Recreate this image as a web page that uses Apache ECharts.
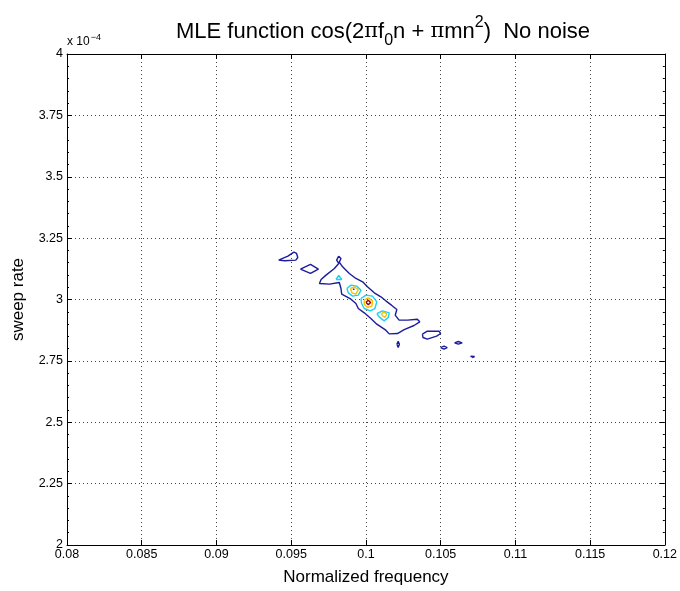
<!DOCTYPE html>
<html>
<head>
<meta charset="utf-8">
<script src="https://cdn.jsdelivr.net/npm/echarts@6/dist/echarts.min.js"></script>
<style>
  html, body { margin: 0; padding: 0; background: #fff; }
  #chart { width: 680px; height: 591px; }
</style>
</head>
<body>
<div id="chart"></div>
<script>
// axis ranges (sweep rate in units of 1e-4)
var xTicks = [0.08, 0.085, 0.09, 0.095, 0.1, 0.105, 0.11, 0.115, 0.12];
var yTicks = [2, 2.25, 2.5, 2.75, 3, 3.25, 3.5, 3.75, 4];

// contour level 1 (dark blue) - closed loops, [freq, sweep]
var blueContours = [
  [[0.09416,3.1603],[0.09478,3.1766],[0.09518,3.1929],[0.09536,3.1875],[0.09544,3.1712],[0.09531,3.1603],[0.09456,3.1576],[0.09416,3.1603]],
  [[0.09562,3.1236],[0.09629,3.1427],[0.09682,3.1236],[0.09629,3.1060],[0.09562,3.1236]],
  [[0.09818,3.1766],[0.09833,3.1671],[0.09822,3.1522],[0.09844,3.1332],[0.09889,3.1060],[0.09933,3.0856],
   [0.09978,3.0720],[0.10010,3.0516],[0.10056,3.0272],[0.10100,3.0109],[0.10133,2.9946],[0.10171,2.9769],
   [0.10207,2.9592],[0.10196,2.9361],[0.10222,2.9158],[0.10278,2.9158],[0.10344,2.9198],[0.10360,2.9090],
   [0.10322,2.8940],[0.10256,2.8777],[0.10211,2.8614],[0.10156,2.8600],[0.10133,2.8750],[0.10073,2.8995],
   [0.10033,2.9226],[0.09989,2.9457],[0.09949,2.9633],[0.09933,2.9837],[0.09900,3.0014],[0.09838,3.0217],
   [0.09833,3.0448],[0.09822,3.0693],[0.09756,3.0625],[0.09689,3.0652],[0.09700,3.0815],[0.09733,3.0992],
   [0.09789,3.1264],[0.09818,3.1467],[0.09804,3.1603],[0.09818,3.1766]],
  [[0.10207,2.8179],[0.10216,2.8302],[0.10224,2.8179],[0.10216,2.8043],[0.10207,2.8179]],
  [[0.10378,2.8587],[0.10411,2.8709],[0.10489,2.8709],[0.10500,2.8614],[0.10473,2.8505],[0.10411,2.8383],[0.10382,2.8451],[0.10378,2.8587]],
  [[0.10500,2.8043],[0.10522,2.8098],[0.10544,2.8043],[0.10522,2.7976],[0.10500,2.8043]],
  [[0.10593,2.8234],[0.10618,2.8288],[0.10644,2.8234],[0.10618,2.8179],[0.10593,2.8234]],
  [[0.10700,2.7690],[0.10713,2.7731],[0.10727,2.7677],[0.10713,2.7636],[0.10700,2.7690]]
];

// contour level 2 (cyan)
var cyanContours = [
  [[0.09800,3.0815],[0.09818,3.0978],[0.09838,3.0815],[0.09800,3.0815]],
  [[0.09873,3.0448],[0.09900,3.0584],[0.09940,3.0543],[0.09967,3.0380],[0.09949,3.0177],[0.09911,3.0136],[0.09882,3.0272],[0.09873,3.0448]],
  [[0.09967,3.0041],[0.10000,3.0177],[0.10044,3.0136],[0.10073,2.9905],[0.10060,2.9633],[0.10029,2.9538],[0.09989,2.9633],[0.09971,2.9837],[0.09967,3.0041]],
  [[0.10073,2.9429],[0.10111,2.9538],[0.10156,2.9457],[0.10149,2.9266],[0.10122,2.9130],[0.10089,2.9293],[0.10073,2.9429]]
];

// contour level 3 (yellow)
var yellowContours = [
  [[0.09896,3.0448],[0.09922,3.0516],[0.09949,3.0408],[0.09933,3.0217],[0.09907,3.0272],[0.09896,3.0448]],
  [[0.09989,2.9973],[0.10016,3.0068],[0.10044,2.9946],[0.10040,2.9728],[0.10011,2.9674],[0.09989,2.9810],[0.09989,2.9973]],
  [[0.10104,2.9429],[0.10122,2.9484],[0.10140,2.9402],[0.10127,2.9266],[0.10109,2.9348],[0.10104,2.9429]]
];

// contour level 4 (dark red)
var redContours = [
  [[0.09913,3.0420],[0.09918,3.0470],[0.09923,3.0420],[0.09918,3.0370],[0.09913,3.0420]],
  [[0.10000,2.9891],[0.10016,2.9973],[0.10031,2.9878],[0.10016,2.9783],[0.10000,2.9891]]
];

var levelColors = ['#1c1c9c', '#1cd0f0', '#f7c000', '#a00000'];

var chart = echarts.init(document.getElementById('chart'));

var series = [];
[blueContours, cyanContours, yellowContours, redContours].forEach(function (group, i) {
  group.forEach(function (pts) {
    series.push({
      type: 'line',
      data: pts,
      showSymbol: false,
      symbol: 'none',
      silent: true,
      animation: false,
      lineStyle: { color: levelColors[i], width: 1.4 }
    });
  });
});

var fontFam = '"Liberation Sans", Arial, sans-serif';
var tickFmt = function (v) { return String(+v.toFixed(3)); };
var dotted = { color: '#444', width: 1, type: [1, 3] };

chart.setOption({
  backgroundColor: '#fff',
  animation: false,
  title: {
    text: 'MLE function cos(2{g|π}f{sub|0}n + {g|π}mn{sup|2})  No noise',
    left: 378,
    textAlign: 'center',
    top: 10,
    textStyle: {
      fontFamily: fontFam,
      fontSize: 22,
      fontWeight: 'normal',
      color: '#000',
      rich: {
        g: { fontFamily: '"DejaVu Serif", serif', fontSize: 21, color: '#000' },
        sub: { fontFamily: fontFam, fontSize: 16, color: '#000', padding: [18, 0, 0, 0] },
        sup: { fontFamily: fontFam, fontSize: 16, color: '#000', padding: [0, 0, 18, 0] }
      }
    }
  },
  graphic: [{
    type: 'text',
    left: 67,
    top: 33,
    style: {
      text: 'x 10{s|−4}',
      font: '12px ' + fontFam,
      fill: '#000',
      rich: { s: { fontSize: 9, fontFamily: fontFam, padding: [0, 0, 8, 1] } }
    }
  }],
  grid: { left: 67, right: 12, top: 54, bottom: 46, containLabel: false },
  xAxis: [{
    type: 'value',
    min: 0.08, max: 0.12, interval: 0.005,
    name: 'Normalized frequency',
    nameLocation: 'middle',
    nameGap: 24,
    nameTextStyle: { fontFamily: fontFam, fontSize: 17, color: '#000' },
    axisLine: { onZero: false, lineStyle: { color: '#000', width: 1 } },
    axisTick: { inside: true, length: 5, lineStyle: { color: '#000' } },
    axisLabel: { fontFamily: fontFam, fontSize: 12.5, color: '#000', margin: 3, formatter: tickFmt },
    splitLine: { show: true, lineStyle: dotted }
  }, {
    type: 'value', position: 'top',
    min: 0.08, max: 0.12, interval: 0.005,
    axisLine: { onZero: false, lineStyle: { color: '#000', width: 1 } },
    axisTick: { inside: true, length: 5, lineStyle: { color: '#000' } },
    axisLabel: { show: false },
    splitLine: { show: false }
  }],
  yAxis: [{
    type: 'value',
    min: 2, max: 4, interval: 0.25,
    name: 'sweep rate',
    nameLocation: 'middle',
    nameGap: 40,
    nameTextStyle: { fontFamily: fontFam, fontSize: 17, color: '#000' },
    axisLine: { onZero: false, lineStyle: { color: '#000', width: 1 } },
    axisTick: { inside: true, length: 5, lineStyle: { color: '#000' } },
    minorTick: { show: true, splitNumber: 5, length: 2, lineStyle: { color: '#000' } },
    axisLabel: { fontFamily: fontFam, fontSize: 12.5, color: '#000', margin: 4, formatter: tickFmt },
    splitLine: { show: true, lineStyle: dotted }
  }, {
    type: 'value', position: 'right',
    min: 2, max: 4, interval: 0.25,
    axisLine: { onZero: false, lineStyle: { color: '#000', width: 1 } },
    axisTick: { inside: true, length: 5, lineStyle: { color: '#000' } },
    minorTick: { show: true, splitNumber: 5, length: 2, lineStyle: { color: '#000' } },
    axisLabel: { show: false },
    splitLine: { show: false }
  }],
  series: series
});
</script>
</body>
</html>
